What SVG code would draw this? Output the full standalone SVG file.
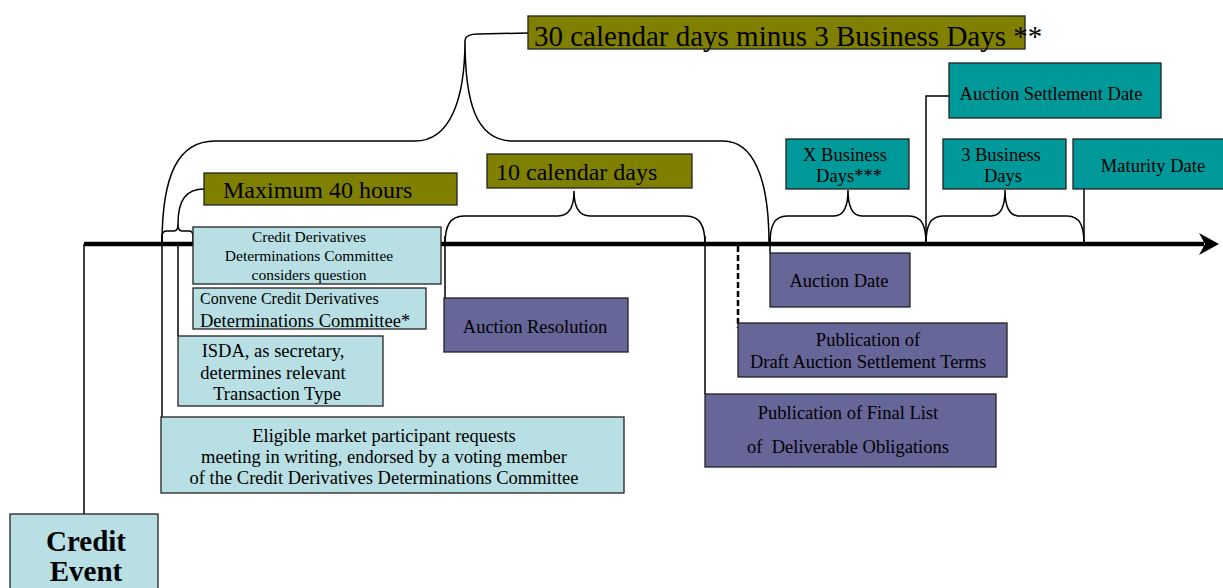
<svg xmlns="http://www.w3.org/2000/svg" width="1223" height="588" viewBox="0 0 1223 588">
<style>
text{font-family:"Liberation Serif","Times New Roman",serif;fill:#000}
.olive{fill:#808000;stroke:#222;stroke-width:1.3}
.lb{fill:#B8DFE3;stroke:#222;stroke-width:1.3}
.teal{fill:#009999;stroke:#222;stroke-width:1.3}
.pur{fill:#666699;stroke:#222;stroke-width:1.3}
.ln{fill:none;stroke:#000;stroke-width:1.5}
.f185{font-size:18.5px}
.c{text-anchor:middle}
</style>
<rect width="1223" height="588" fill="#fff"/>
<g id="connectors">
  <line x1="84" y1="244" x2="1204" y2="244" stroke="#000" stroke-width="4.5"/>
  <polygon points="1219,244 1199,233 1205,244 1199,255" fill="#000"/>
  <line class="ln" x1="84" y1="244" x2="84" y2="514"/>
  <line class="ln" x1="162" y1="236" x2="162" y2="417"/>
  <line class="ln" x1="178" y1="244" x2="178" y2="336"/>
  <line class="ln" x1="445" y1="236" x2="445" y2="298"/>
  <line class="ln" x1="705" y1="236" x2="705" y2="394"/>
  <line class="ln" x1="770" y1="236" x2="770" y2="253"/>
  <line x1="738" y1="246" x2="738" y2="328" stroke="#000" stroke-dasharray="6,3" stroke-width="2.5" fill="none"/>
  <path class="ln" d="M926,244 L926,96 L949,96"/>
  <line class="ln" x1="1084" y1="189" x2="1084" y2="244"/>
  <path class="ln" d="M162,244 C162,175 178,141 215,141 L415,141 C450,141 465,100 465,40 C465,100 475,141 513,141 L723,141 C752,141 769,175 769,244"/>
  <path class="ln" d="M465,40 Q466,34 478,34 L528,33"/>
  <path class="ln" d="M162,244 L162,236 Q162,231 167,231 L174,231 Q178,231 178,224 Q178,231 182,231 L189,231 Q193,231 193,236 L193,244"/>
  <path class="ln" d="M178,224 C178,200 186,189 204,189"/>
  <path class="ln" d="M445,244 C445,226 450,216 464,216 L558,216 C570,216 574,206 574,191 C574,206 578,216 590,216 L686,216 C700,216 705,226 705,244"/>
  <path class="ln" d="M770,244 C770,226 774,216 787,216 L834,216 C844,216 848,206 848,190 C848,206 852,216 862,216 L909,216 C922,216 926,226 926,244"/>
  <path class="ln" d="M926,244 C926,226 930,216 943,216 L991,216 C1001,216 1005,206 1005,190 C1005,206 1009,216 1019,216 L1067,216 C1080,216 1084,226 1084,244"/>
</g>
<g id="n30days">
  <rect class="olive" x="528" y="16" width="497" height="33"/>
  <text x="534" y="46" font-size="29">30 calendar days minus 3 Business Days **</text>
</g>
<g id="nMax40">
  <rect class="olive" x="204" y="173" width="253" height="32"/>
  <text x="223" y="198" font-size="24">Maximum 40 hours</text>
</g>
<g id="n10days">
  <rect class="olive" x="487" y="154" width="205" height="34"/>
  <text x="496" y="180" font-size="24">10 calendar days</text>
</g>
<g id="nCDDC">
  <rect class="lb" x="193" y="227" width="248" height="57"/>
  <text class="c" x="309" y="242" font-size="15.5">Credit Derivatives</text>
  <text class="c" x="309" y="261" font-size="15.5">Determinations Committee</text>
  <text class="c" x="309" y="280" font-size="15.5">considers question</text>
</g>
<g id="nConvene">
  <rect class="lb" x="193" y="288" width="233" height="41"/>
  <text x="200" y="304" font-size="16">Convene Credit Derivatives</text>
  <text x="200" y="327" class="f185">Determinations Committee*</text>
</g>
<g id="nISDA">
  <rect class="lb" x="178" y="336" width="205" height="70"/>
  <text class="c f185" x="273" y="357">ISDA, as secretary,</text>
  <text class="c f185" x="273" y="379">determines relevant</text>
  <text class="c f185" x="277" y="400">Transaction Type</text>
</g>
<g id="nEligible">
  <rect class="lb" x="161" y="417" width="463" height="76"/>
  <text class="c f185" x="384" y="442">Eligible market participant requests</text>
  <text class="c f185" x="384" y="463">meeting in writing, endorsed by a voting member</text>
  <text class="c f185" x="384" y="484">of the Credit Derivatives Determinations Committee</text>
</g>
<g id="nCreditEvent">
  <rect class="lb" x="10" y="514" width="148" height="90"/>
  <text class="c" x="86" y="551" font-size="29" font-weight="bold">Credit</text>
  <text class="c" x="86" y="581" font-size="29" font-weight="bold">Event</text>
</g>
<g id="nAuctionResolution">
  <rect class="pur" x="444" y="298" width="184" height="54"/>
  <text class="c f185" x="535" y="333">Auction Resolution</text>
</g>
<g id="nAuctionDate">
  <rect class="pur" x="770" y="253" width="140" height="54"/>
  <text class="c f185" x="839" y="287">Auction Date</text>
</g>
<g id="nDraftTerms">
  <rect class="pur" x="738" y="323" width="269" height="54"/>
  <text class="c f185" x="868" y="346">Publication of</text>
  <text class="c f185" x="868" y="368">Draft Auction Settlement Terms</text>
</g>
<g id="nFinalList">
  <rect class="pur" x="705" y="394" width="291" height="73"/>
  <text class="c f185" x="848" y="419">Publication of Final List</text>
  <text class="c f185" x="848" y="453" xml:space="preserve">of  Deliverable Obligations</text>
</g>
<g id="nAuctionSettlement">
  <rect class="teal" x="949" y="63" width="212" height="55"/>
  <text class="c f185" x="1051" y="100">Auction Settlement Date</text>
</g>
<g id="nXBusiness">
  <rect class="teal" x="786" y="139" width="123" height="50"/>
  <text class="c f185" x="845" y="161">X Business</text>
  <text class="c f185" x="849" y="182">Days***</text>
</g>
<g id="n3Business">
  <rect class="teal" x="943" y="139" width="123" height="50"/>
  <text class="c f185" x="1001" y="161">3 Business</text>
  <text class="c f185" x="1003" y="182">Days</text>
</g>
<g id="nMaturity">
  <rect class="teal" x="1073" y="139" width="155" height="50"/>
  <text class="c f185" x="1153" y="172">Maturity Date</text>
</g>
</svg>
